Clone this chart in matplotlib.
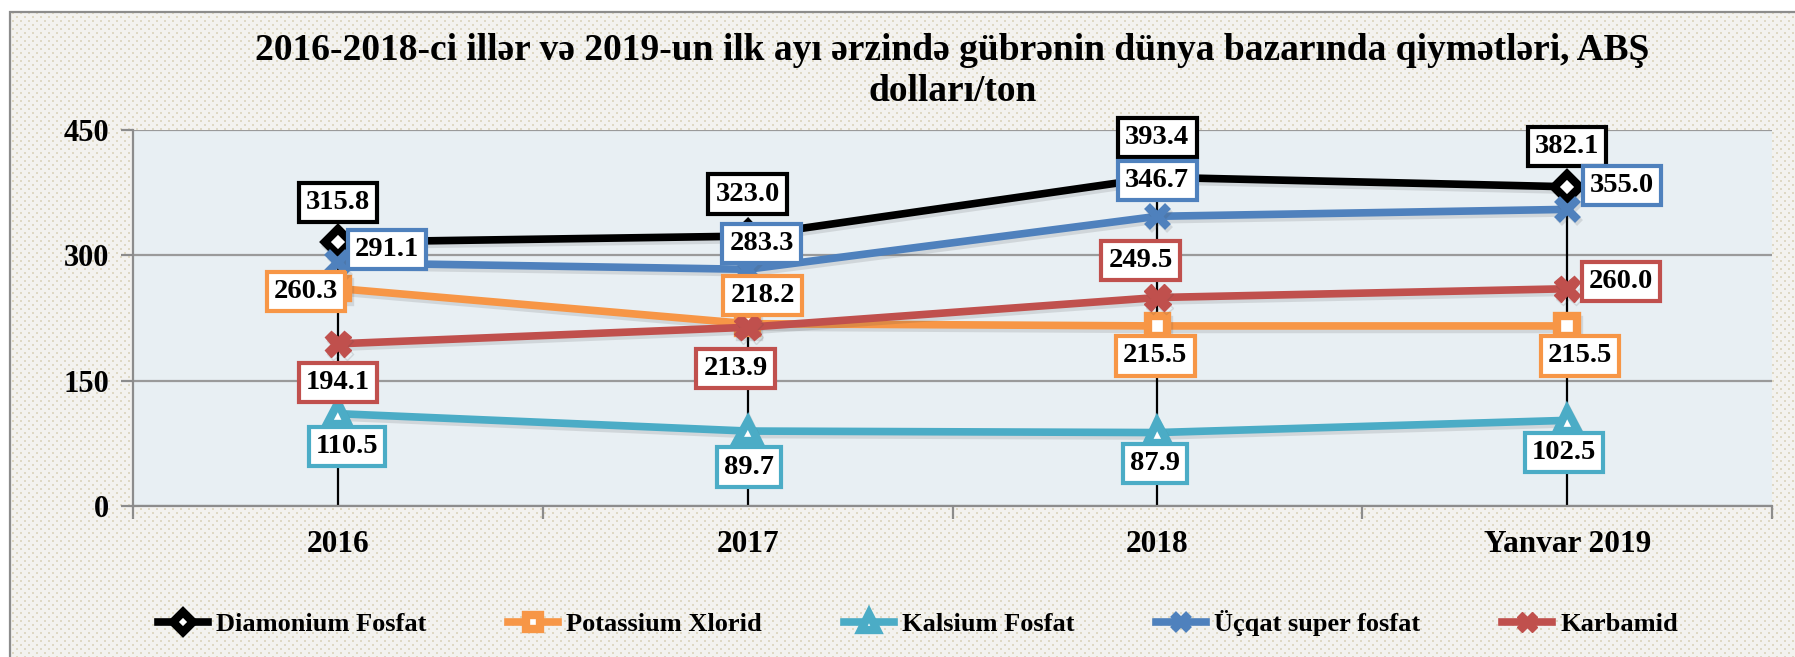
import numpy as np
import matplotlib
matplotlib.use("Agg")
import matplotlib.pyplot as plt
from matplotlib import patheffects as pe
from matplotlib.patches import Rectangle

# ---- data ----
categories = ["2016", "2017", "2018", "Yanvar 2019"]
diamonium_fosfat = [315.8, 323.0, 393.4, 382.1]
potassium_xlorid = [260.3, 218.2, 215.5, 215.5]
kalsium_fosfat = [110.5, 89.7, 87.9, 102.5]
ucqat_super_fosfat = [291.1, 283.3, 346.7, 355.0]
karbamid = [194.1, 213.9, 249.5, 260.0]
y_ticks = [0, 150, 300, 450]

title = ("2016-2018-ci illər və 2019-un ilk ayı ərzində gübrənin dünya bazarında qiymətləri, ABŞ\n"
         "dolları/ton")

# ---- styling ----
W, H, DPI = 1795, 657, 100
FONT = "Liberation Serif"
plt.rcParams["font.family"] = [FONT, "DejaVu Serif"]
plt.rcParams["font.weight"] = "bold"

fig = plt.figure(figsize=(W / DPI, H / DPI), dpi=DPI)
fig.patch.set_facecolor("white")

# dotted chart-area texture
bg = np.empty((H, W, 3), dtype=float)
bg[:] = np.array([243, 242, 239]) / 255.0
yy, xx = np.mgrid[0:H, 0:W]
row = yy // 4
dots = ((yy % 4) < 2) & (((xx + (row % 2) * 4) % 8) < 2)
bg[dots] = np.array([222, 216, 196]) / 255.0
bg[:12, :] = 1.0
bg[:, :10] = 1.0
fig.figimage(bg, xo=0, yo=0, origin="upper", zorder=-10)
fig.patches.append(Rectangle((10 / W, -0.2), 1.2, 1.2 - 12 / H, transform=fig.transFigure,
                             fill=False, ec="#8c8c8c", lw=1.6, zorder=-5))

L, R, T, B = 133, 1772, 130, 506
ax = fig.add_axes([L / W, 1 - B / H, (R - L) / W, (B - T) / H])
ax.set_facecolor("#e8eff3")

x = np.arange(len(categories))
ax.set_xlim(-0.5, len(categories) - 0.5)
ax.set_ylim(0, 450)

# gridlines and axes
ax.set_yticks(y_ticks)
ax.grid(axis="y", color="#9a9a9a", lw=1.6)
ax.set_axisbelow(True)
for s in ["top", "right"]:
    ax.spines[s].set_visible(False)
for s in ["left", "bottom"]:
    ax.spines[s].set_color("#8c8c8c")
    ax.spines[s].set_linewidth(1.6)
ax.tick_params(axis="y", length=9, width=1.6, color="#8c8c8c", labelsize=22, pad=8)
ax.set_xticks(np.arange(-0.5, len(categories), 1.0), minor=False)
ax.set_xticklabels([])
ax.tick_params(axis="x", which="major", length=9, width=1.6, color="#8c8c8c")
ax.set_xticks(x, minor=True)
ax.set_xticklabels(categories, minor=True)
ax.tick_params(axis="x", which="minor", length=0, labelsize=22.5, pad=17)
for lab in ax.get_yticklabels() + ax.get_xticklabels(minor=True):
    lab.set_fontweight("bold")
    lab.set_fontfamily(FONT)

# drop lines from the highest value of each category
tops = np.max(np.vstack([diamonium_fosfat, potassium_xlorid, kalsium_fosfat,
                         ucqat_super_fosfat, karbamid]), axis=0)
ax.vlines(x, 0, tops, color="black", lw=1.6, zorder=2)

shadow = [pe.SimpleLineShadow(offset=(1.5, -2.5), shadow_color="#444444", alpha=0.14),
          pe.Normal()]

series = [
    ("Diamonium Fosfat", diamonium_fosfat, "#000000",
     dict(marker="D", ms=13, mfc="white", mec="#000000", mew=6),
     [(0, 40), (0, 42), (0, 40), (0, 40)]),
    ("Potassium Xlorid", potassium_xlorid, "#f79646",
     dict(marker="s", ms=14, mfc="white", mec="#f79646", mew=6),
     [(-32, -3), (15, 28), (-2, -30), (13, -30)]),
    ("Kalsium Fosfat", kalsium_fosfat, "#4bacc6",
     dict(marker="^", ms=15, mfc="white", mec="#4bacc6", mew=6),
     [(9, -33), (1, -36), (-2, -31), (-3, -32)]),
    ("Üçqat super fosfat", ucqat_super_fosfat, "#4f81bd",
     dict(marker="x", ms=15, mew=6, mec="#4f81bd"),
     [(49, 13), (14, 26), (0, 36), (55, 24)]),
    ("Karbamid", karbamid, "#c0504d",
     dict(marker="X", ms=19, mfc="#c0504d", mec="#c0504d", mew=1),
     [(0, -39), (-12, -41), (-17, 37), (54, 7)]),
]

handles = []
for i, (name, vals, col, mk, offs) in enumerate(series):
    ln, = ax.plot(x, vals, color=col, lw=5.5, zorder=3 + i, label=name,
                  path_effects=shadow, **mk)
    handles.append(ln)
    for xi, v, (dx, dy) in zip(x, vals, offs):
        ax.annotate(f"{v:.1f}", (xi, v), xytext=(dx, dy), textcoords="offset pixels",
                    ha="center", va="center", fontsize=20.5, fontweight="bold",
                    fontfamily=FONT, zorder=20,
                    bbox=dict(boxstyle="square,pad=0.25", fc="white", ec=col, lw=3))

fig.text((L + R) / 2 / W, 1 - 71 / H, title, ha="center", va="center",
         fontsize=27, fontweight="bold", fontfamily=FONT, linespacing=1.2)

leg = fig.legend(handles=handles, loc="center", bbox_to_anchor=(918 / W, 1 - 623 / H),
                 ncol=5, frameon=False, handlelength=1.9, handletextpad=0.3,
                 columnspacing=3.1, prop=dict(family=FONT, weight="bold", size=19),
                 markerscale=0.75)
for h in leg.legend_handles:
    h.set_path_effects([])

fig.savefig("out.png", dpi=DPI)
